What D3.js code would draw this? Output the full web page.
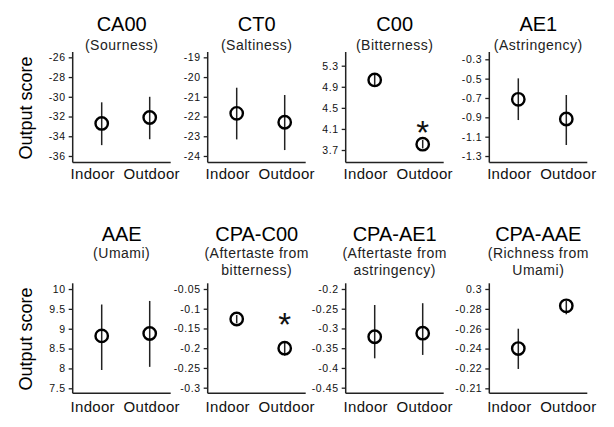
<!DOCTYPE html>
<html><head><meta charset="utf-8">
<script src="https://cdn.jsdelivr.net/npm/d3@7"></script>
<style>
html,body{margin:0;padding:0;background:#fff;}
svg{display:block;font-family:"Liberation Sans",Arial,sans-serif;}
</style></head>
<body>
<svg id="chart" width="614" height="427"></svg>
<script>
const titles = ["CA00","CT0","C00","AE1","AAE","CPA-C00","CPA-AE1","CPA-AAE"];
const subtitles = [["(Sourness)"],["(Saltiness)"],["(Bitterness)"],["(Astringency)"],
  ["(Umami)"],["(Aftertaste from","bitterness)"],["(Aftertaste from","astringency)"],["(Richness from","Umami)"]];
const groups = ["Indoor","Outdoor"];
const means = [[-32.7,-32.1],[-21.84,-22.29],[5.03,3.81],[-0.714,-0.917],
  [8.82,8.88],[-0.126,-0.200],[-0.321,-0.312],[-0.240,-0.283]];
const errHigh = [[-30.56,-30.0],[-20.54,-20.91],[5.14,3.89],[-0.497,-0.669],
  [9.61,9.70],[-0.116,-0.185],[-0.2405,-0.236],[-0.26,-0.288]];
const errLow = [[-34.9,-34.3],[-23.16,-23.7],[4.91,3.73],[-0.928,-1.186],
  [7.96,8.04],[-0.137,-0.219],[-0.3756,-0.367],[-0.2195,-0.2745]];
const tickValues = [[-26,-28,-30,-32,-34,-36],[-19,-20,-21,-22,-23,-24],[5.3,4.9,4.5,4.1,3.7],
  [-0.3,-0.5,-0.7,-0.9,-1.1,-1.3],[10,9.5,9,8.5,8,7.5],[-0.05,-0.1,-0.15,-0.2,-0.25,-0.3],
  [-0.2,-0.25,-0.3,-0.35,-0.4,-0.45],[-0.30,-0.28,-0.26,-0.24,-0.22,-0.20]];
const tickLabels = [["-26","-28","-30","-32","-34","-36"],["-19","-20","-21","-22","-23","-24"],
  ["5.3","4.9","4.5","4.1","3.7"],["-0.3","-0.5","-0.7","-0.9","-1.1","-1.3"],
  ["10","9.5","9","8.5","8","7.5"],["-0.05","-0.1","-0.15","-0.2","-0.25","-0.3"],
  ["-0.2","-0.25","-0.3","-0.35","-0.4","-0.45"],["0.3","-0.28","-0.26","-0.24","-0.22","-0.21"]];
// [value at bottom of axis, value at top of axis]
const yDomains = [[-36.66,-25.46],[-24.33,-18.73],[3.463,5.56],[-1.367,-0.2245],
  [7.374,10.144],[-0.3142,-0.0356],[-0.4642,-0.1856],[-0.195,-0.3057]];
// significance marks: value where asterisk sits (null = none)
const starAt = [[null,null],[null,null],[null,4.17],[null,null],[null,null],[null,-0.121],[null,null],[null,null]];
const yLabel = "Output score";

const svg = d3.select("#chart");
const axisXs = [72.7,207.7,345.7,489.3];
const rows = [{top:52,bottom:162.5,titleY:30.7,subY:49.5,xlabY:179,ylabC:108},
              {top:283.3,bottom:393.3,titleY:241,subY:258,xlabY:411.5,ylabC:339}];
const axW = 98;

titles.forEach((t,i)=>{
  const r = rows[Math.floor(i/4)];
  const ax = axisXs[i%4];
  const g = svg.append("g");
  const y = d3.scaleLinear().domain(yDomains[i]).range([r.bottom,r.top]);
  const x = d3.scalePoint().domain(groups).range([ax+5,ax+101]).padding(0.5);
  const xl = d3.scalePoint().domain(groups).range([ax+20,ax+79]);

  // title
  g.append("text").attr("x",ax+49).attr("y",r.titleY).attr("text-anchor","middle")
    .attr("font-size",20).attr("fill","#000").text(t);
  subtitles[i].forEach((s,k)=>{
    g.append("text").attr("x",ax+49).attr("y",r.subY+k*16.5).attr("text-anchor","middle")
      .attr("font-size",14).style("letter-spacing","0.5px").attr("fill","#222").text(s);
  });

  // y axis
  const yAxis = d3.axisLeft(y).tickValues(tickValues[i]).tickSize(4).tickPadding(3)
    .tickFormat((d,k)=>tickLabels[i][k]);
  const ya = g.append("g").attr("transform",`translate(${ax},0)`).call(yAxis);
  ya.select(".domain").remove();
  ya.selectAll(".tick line").attr("stroke","#222").attr("stroke-width",1.3);
  ya.selectAll(".tick text").attr("font-size",10.5).attr("fill","#111")
    .attr("font-family","'Liberation Sans',Arial,sans-serif").style("letter-spacing","0.6px");
  g.append("line").attr("x1",ax).attr("x2",ax).attr("y1",r.top).attr("y2",r.bottom)
    .attr("stroke","#222").attr("stroke-width",1.5);
  g.append("line").attr("x1",ax).attr("x2",ax+axW).attr("y1",r.bottom).attr("y2",r.bottom)
    .attr("stroke","#222").attr("stroke-width",1.5);

  // x labels
  groups.forEach(gr=>{
    g.append("text").attr("x",xl(gr)).attr("y",r.xlabY).attr("text-anchor","middle")
      .attr("font-size",15).style("letter-spacing","0.3px").attr("fill","#111").text(gr);
  });

  // error bars and points
  groups.forEach((gr,j)=>{
    g.append("line").attr("x1",x(gr)).attr("x2",x(gr))
      .attr("y1",y(errHigh[i][j])).attr("y2",y(errLow[i][j]))
      .attr("stroke","#222").attr("stroke-width",1.5);
    g.append("circle").attr("cx",x(gr)).attr("cy",y(means[i][j])).attr("r",6.2)
      .attr("fill","none").attr("stroke","#000").attr("stroke-width",2.4);
    if(starAt[i][j]!==null){
      g.append("text").attr("x",x(gr)).attr("y",y(starAt[i][j])+19)
        .attr("text-anchor","middle").attr("font-size",33).attr("font-weight",300)
        .attr("fill","#111").text("*");
    }
  });

  if(i%4===0){
    svg.append("text").attr("transform",`translate(32,${r.ylabC}) rotate(-90)`)
      .attr("text-anchor","middle").attr("font-size",18).attr("fill","#000").text(yLabel);
  }
});
</script>
</body></html>
